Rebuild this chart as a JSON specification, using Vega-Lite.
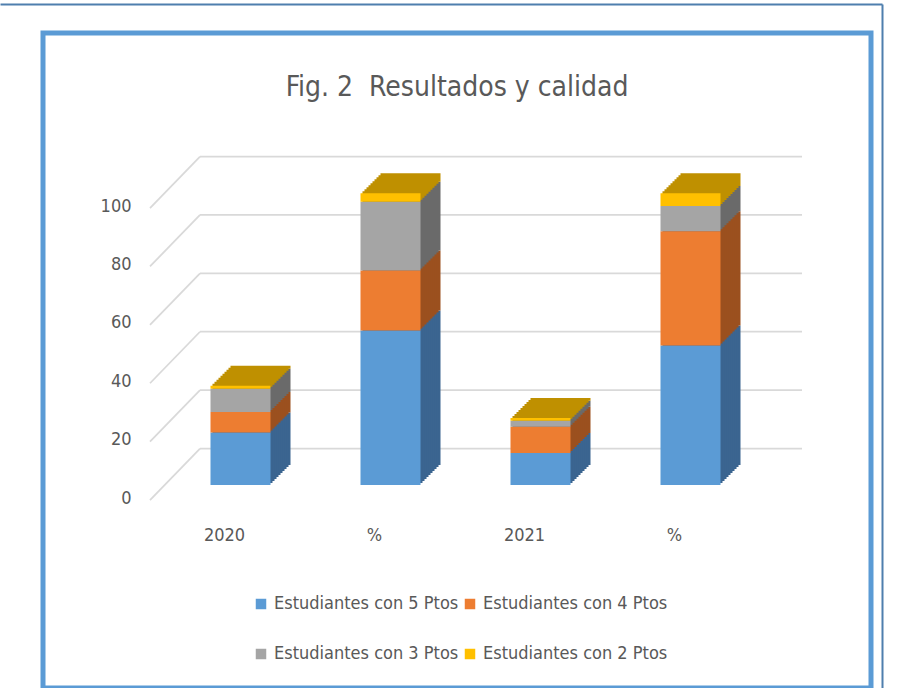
{
  "$schema": "https://vega.github.io/schema/vega-lite/v6.json",
  "width": 828,
  "height": 655,
  "autosize": {"type": "none"},
  "padding": {"left": 43, "top": 33, "right": 28, "bottom": 0},
  "background": "white",
  "datasets": {
    "barras": [
      {"cat": "2020", "serie": "Estudiantes con 5 Ptos", "puntos": 5, "valor": 18},
      {"cat": "2020", "serie": "Estudiantes con 4 Ptos", "puntos": 4, "valor": 7},
      {"cat": "2020", "serie": "Estudiantes con 3 Ptos", "puntos": 3, "valor": 8},
      {"cat": "2020", "serie": "Estudiantes con 2 Ptos", "puntos": 2, "valor": 1},
      {"cat": "%", "serie": "Estudiantes con 5 Ptos", "puntos": 5, "valor": 52.9},
      {"cat": "%", "serie": "Estudiantes con 4 Ptos", "puntos": 4, "valor": 20.6},
      {"cat": "%", "serie": "Estudiantes con 3 Ptos", "puntos": 3, "valor": 23.5},
      {"cat": "%", "serie": "Estudiantes con 2 Ptos", "puntos": 2, "valor": 2.9},
      {"cat": "2021", "serie": "Estudiantes con 5 Ptos", "puntos": 5, "valor": 11},
      {"cat": "2021", "serie": "Estudiantes con 4 Ptos", "puntos": 4, "valor": 9},
      {"cat": "2021", "serie": "Estudiantes con 3 Ptos", "puntos": 3, "valor": 2},
      {"cat": "2021", "serie": "Estudiantes con 2 Ptos", "puntos": 2, "valor": 1},
      {"cat": "% ", "serie": "Estudiantes con 5 Ptos", "puntos": 5, "valor": 47.8},
      {"cat": "% ", "serie": "Estudiantes con 4 Ptos", "puntos": 4, "valor": 39.1},
      {"cat": "% ", "serie": "Estudiantes con 3 Ptos", "puntos": 3, "valor": 8.7},
      {"cat": "% ", "serie": "Estudiantes con 2 Ptos", "puntos": 2, "valor": 4.3}
    ],
    "rejilla": [{"v": 0}, {"v": 20}, {"v": 40}, {"v": 60}, {"v": 80}, {"v": 100}]
  },
  "title": {
    "text": "Fig. 2\u00a0 Resultados y calidad",
    "fontSize": 28,
    "fontWeight": "normal",
    "color": "#595959",
    "anchor": "middle",
    "frame": "group",
    "offset": -98
  },
  "config": {
    "font": "DejaVu Sans Condensed, DejaVu Sans, sans-serif",
    "view": {"stroke": "#5b9bd5", "strokeWidth": 5},
    "axis": {"grid": false, "ticks": false, "domain": false, "labelColor": "#595959", "labelFontSize": 18, "title": null}
  },
  "resolve": {"scale": {"x": "independent", "y": "independent"}, "axis": {"x": "independent", "y": "independent"}},
  "layer": [
    {
      "data": {"name": "rejilla"},
      "layer": [
        {
          "mark": {"type": "rule", "color": "#d9d9d9", "strokeWidth": 1.75, "xOffset": -241, "x2Offset": 361, "yOffset": -36.5},
          "encoding": {
            "x": {"datum": "2020", "type": "nominal", "title": null, "scale": {"domain": ["2020"], "range": [-43, 839]}, "axis": {"orient": "top", "offset": 29, "domain": true, "domainColor": "#4f7fae", "domainWidth": 2, "labels": false, "ticks": false}},
            "x2": {"datum": "2020"},
            "y": {"field": "v", "type": "quantitative", "title": null, "scale": {"domain": [-69.5, 164.73], "range": [655, -29], "nice": false, "zero": false}, "axis": {"orient": "right", "offset": 11, "domain": true, "domainColor": "#4f7fae", "domainWidth": 2, "labels": false, "ticks": false}}
          }
        },
        {
          "mark": {"type": "rule", "color": "#d9d9d9", "strokeWidth": 1.75, "xOffset": -291, "x2Offset": -241, "yOffset": 15, "y2Offset": -36.5},
          "encoding": {
            "x": {"datum": "2020", "type": "nominal", "title": null},
            "x2": {"datum": "2020"},
            "y": {"field": "v", "type": "quantitative", "title": null},
            "y2": {"field": "v"}
          }
        }
      ]
    },
    {
      "data": {"name": "barras"},
      "encoding": {
        "x": {"field": "cat", "type": "nominal", "title": null, "scale": {"domain": ["2020", "%", "2021", "% "], "range": [167.5, 677.5], "paddingInner": 0.6, "paddingOuter": 0}, "axis": {"orient": "bottom", "offset": -164, "labelPadding": 2, "labelOffset": -16, "labelAngle": 0, "labelExpr": "trim(datum.label)"}},
        "y": {"field": "valor", "type": "quantitative", "title": null, "stack": "zero", "scale": {"domain": [-69.5, 154.8], "nice": false, "zero": false}, "axis": {"orient": "left", "offset": -89, "labelPadding": 1, "labelOffset": 13, "values": [0, 20, 40, 60, 80, 100]}},
        "order": {"field": "puntos", "type": "quantitative", "sort": "descending"}
      },
      "resolve": {"scale": {"color": "independent"}, "legend": {"color": "independent"}},
      "layer": [
        {"mark": {"type": "bar", "xOffset": 20, "x2Offset": 20, "yOffset": -20, "y2Offset": -20}, "encoding": {"color": {"field": "serie", "type": "nominal", "legend": null, "scale": {"domain": ["Estudiantes con 5 Ptos", "Estudiantes con 4 Ptos", "Estudiantes con 3 Ptos", "Estudiantes con 2 Ptos"], "range": ["#3b6590", "#9b501f", "#6a6a6a", "#bf9000"]}}}},
        {"mark": {"type": "bar", "xOffset": 18, "x2Offset": 18, "yOffset": -18, "y2Offset": -18}, "encoding": {"color": {"field": "serie", "type": "nominal", "legend": null, "scale": {"domain": ["Estudiantes con 5 Ptos", "Estudiantes con 4 Ptos", "Estudiantes con 3 Ptos", "Estudiantes con 2 Ptos"], "range": ["#3b6590", "#9b501f", "#6a6a6a", "#bf9000"]}}}},
        {"mark": {"type": "bar", "xOffset": 16, "x2Offset": 16, "yOffset": -16, "y2Offset": -16}, "encoding": {"color": {"field": "serie", "type": "nominal", "legend": null, "scale": {"domain": ["Estudiantes con 5 Ptos", "Estudiantes con 4 Ptos", "Estudiantes con 3 Ptos", "Estudiantes con 2 Ptos"], "range": ["#3b6590", "#9b501f", "#6a6a6a", "#bf9000"]}}}},
        {"mark": {"type": "bar", "xOffset": 14, "x2Offset": 14, "yOffset": -14, "y2Offset": -14}, "encoding": {"color": {"field": "serie", "type": "nominal", "legend": null, "scale": {"domain": ["Estudiantes con 5 Ptos", "Estudiantes con 4 Ptos", "Estudiantes con 3 Ptos", "Estudiantes con 2 Ptos"], "range": ["#3b6590", "#9b501f", "#6a6a6a", "#bf9000"]}}}},
        {"mark": {"type": "bar", "xOffset": 12, "x2Offset": 12, "yOffset": -12, "y2Offset": -12}, "encoding": {"color": {"field": "serie", "type": "nominal", "legend": null, "scale": {"domain": ["Estudiantes con 5 Ptos", "Estudiantes con 4 Ptos", "Estudiantes con 3 Ptos", "Estudiantes con 2 Ptos"], "range": ["#3b6590", "#9b501f", "#6a6a6a", "#bf9000"]}}}},
        {"mark": {"type": "bar", "xOffset": 10, "x2Offset": 10, "yOffset": -10, "y2Offset": -10}, "encoding": {"color": {"field": "serie", "type": "nominal", "legend": null, "scale": {"domain": ["Estudiantes con 5 Ptos", "Estudiantes con 4 Ptos", "Estudiantes con 3 Ptos", "Estudiantes con 2 Ptos"], "range": ["#3b6590", "#9b501f", "#6a6a6a", "#bf9000"]}}}},
        {"mark": {"type": "bar", "xOffset": 8, "x2Offset": 8, "yOffset": -8, "y2Offset": -8}, "encoding": {"color": {"field": "serie", "type": "nominal", "legend": null, "scale": {"domain": ["Estudiantes con 5 Ptos", "Estudiantes con 4 Ptos", "Estudiantes con 3 Ptos", "Estudiantes con 2 Ptos"], "range": ["#3b6590", "#9b501f", "#6a6a6a", "#bf9000"]}}}},
        {"mark": {"type": "bar", "xOffset": 6, "x2Offset": 6, "yOffset": -6, "y2Offset": -6}, "encoding": {"color": {"field": "serie", "type": "nominal", "legend": null, "scale": {"domain": ["Estudiantes con 5 Ptos", "Estudiantes con 4 Ptos", "Estudiantes con 3 Ptos", "Estudiantes con 2 Ptos"], "range": ["#3b6590", "#9b501f", "#6a6a6a", "#bf9000"]}}}},
        {"mark": {"type": "bar", "xOffset": 4, "x2Offset": 4, "yOffset": -4, "y2Offset": -4}, "encoding": {"color": {"field": "serie", "type": "nominal", "legend": null, "scale": {"domain": ["Estudiantes con 5 Ptos", "Estudiantes con 4 Ptos", "Estudiantes con 3 Ptos", "Estudiantes con 2 Ptos"], "range": ["#3b6590", "#9b501f", "#6a6a6a", "#bf9000"]}}}},
        {"mark": {"type": "bar", "xOffset": 2, "x2Offset": 2, "yOffset": -2, "y2Offset": -2}, "encoding": {"color": {"field": "serie", "type": "nominal", "legend": null, "scale": {"domain": ["Estudiantes con 5 Ptos", "Estudiantes con 4 Ptos", "Estudiantes con 3 Ptos", "Estudiantes con 2 Ptos"], "range": ["#3b6590", "#9b501f", "#6a6a6a", "#bf9000"]}}}},
        {
          "mark": {"type": "bar"},
          "encoding": {
            "color": {
              "field": "serie",
              "type": "nominal",
              "scale": {"domain": ["Estudiantes con 5 Ptos", "Estudiantes con 4 Ptos", "Estudiantes con 3 Ptos", "Estudiantes con 2 Ptos"], "range": ["#5b9bd5", "#ed7d31", "#a5a5a5", "#ffc000"]},
              "legend": {"orient": "none", "legendX": 209, "legendY": 562, "direction": "horizontal", "columns": 2, "columnPadding": 2, "rowPadding": 32, "symbolType": "square", "symbolSize": 110, "symbolStrokeWidth": 0, "labelFontSize": 18, "labelColor": "#595959", "labelOffset": 4, "labelLimit": 300, "title": null}
            }
          }
        }
      ]
    }
  ]
}
